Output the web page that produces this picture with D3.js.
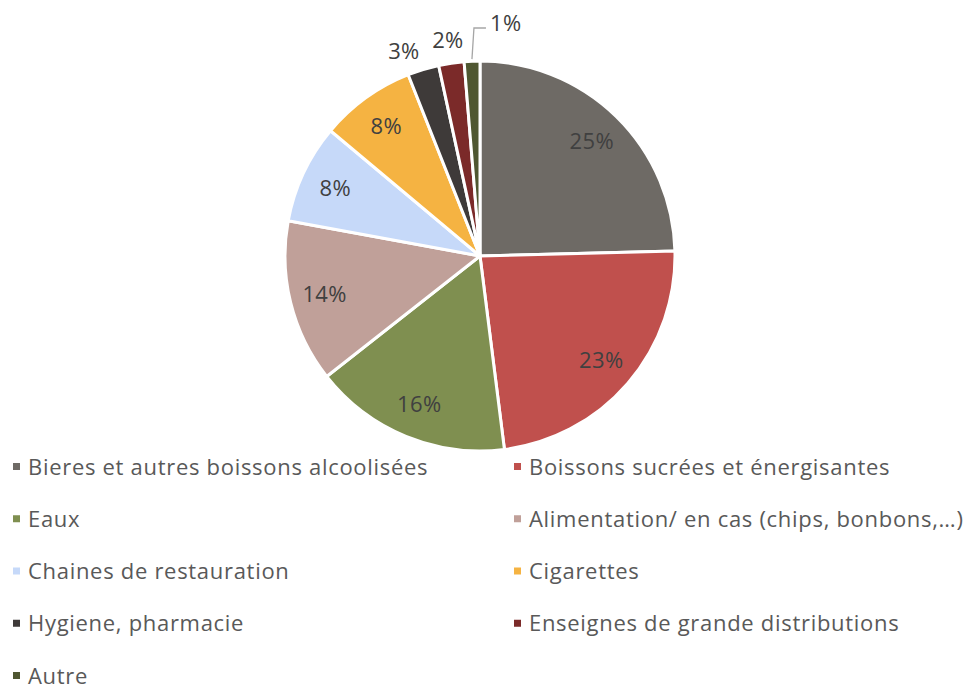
<!DOCTYPE html>
<html>
<head>
<meta charset="utf-8">
<script src="https://cdn.jsdelivr.net/npm/d3@7"></script>
<style>
  body { margin: 0; background: #fff; }
  svg { display: block; font-family: "Open Sans", "Noto Sans", sans-serif; }
</style>
</head>
<body>
<svg id="chart" width="968" height="686"></svg>
<script>
// data
const categories = [
  "Bieres et autres boissons alcoolisées",
  "Boissons sucrées et énergisantes",
  "Eaux",
  "Alimentation/ en cas (chips, bonbons,…)",
  "Chaines de restauration",
  "Cigarettes",
  "Hygiene, pharmacie",
  "Enseignes de grande distributions",
  "Autre"
];
const values = [24.6, 23.4, 16.4, 13.5, 8.2, 7.9, 2.6, 2.1, 1.3];
const colors = ["#6e6a65", "#c0504d", "#7f8f50", "#c0a099", "#c6d9f9", "#f5b342", "#3e3a39", "#7b2a29", "#4f5731"];

const width = 968
const height = 686
const cx = 480, cy = 256, radius = 195

const svg = d3.select("#chart")
const total = d3.sum(values)

const color = d3.scaleOrdinal(categories, colors)

const pie = d3.pie().sort(null).value(d => d.value)
const arc = d3.arc().innerRadius(0).outerRadius(radius)
const labelArc = d3.arc().innerRadius(160).outerRadius(160)

const data = categories.map((c, i) => ({ name: c, value: values[i] }))
const g = svg.append("g").attr("transform", "translate(" + cx + "," + cy + ")")

const arcs = g.selectAll(".arc")
  .data(pie(data))
  .enter()
  .append("g")
  .attr("class", "arc")

arcs.append("path")
  .attr("d", arc)
  .attr("fill", d => color(d.data.name))
  .attr("stroke", "#fff")
  .attr("stroke-width", 3)
  .attr("stroke-linejoin", "round")

const pct = d => Math.round(d.data.value / total * 100) + "%"
const labelStyle = t => t
  .attr("font-size", 22)
  .attr("letter-spacing", 0.4)
  .attr("fill", "#404040")

const slices = pie(data)

// inside labels for the big slices
g.selectAll(".inlabel")
  .data(slices.filter(d => d.data.value / total > 0.05))
  .enter()
  .append("text")
  .attr("class", "inlabel")
  .attr("x", d => labelArc.centroid(d)[0])
  .attr("y", d => labelArc.centroid(d)[1])
  .attr("text-anchor", "middle")
  .attr("dy", "0.35em")
  .call(labelStyle)
  .text(pct)

// outside labels for small slices, pushed apart right to left
const outR = 218
const outside = slices.filter(d => d.data.value / total > 0.015 && d.data.value / total <= 0.05).reverse()
let prevX = null
outside.forEach(d => {
  const mid = (d.startAngle + d.endAngle) / 2
  let x = Math.sin(mid) * outR
  if (prevX !== null && x > prevX - 44) x = prevX - 44
  const y = -Math.sqrt(outR * outR - x * x)
  prevX = x
  g.append("text")
    .attr("x", x).attr("y", y)
    .attr("text-anchor", "middle")
    .attr("dy", "0.35em")
    .call(labelStyle)
    .text(pct(d))
})

// tiny slice: leader line going up then right
slices.filter(d => d.data.value / total <= 0.015).forEach(d => {
  const mid = (d.startAngle + d.endAngle) / 2
  const x0 = Math.sin(mid) * (radius + 2), y0 = -Math.cos(mid) * (radius + 2)
  const y1 = -radius - 33
  const x1 = x0 + 2
  const x2 = x1 + 12
  g.append("polyline")
    .attr("points", [[x0, y0], [x1, y1], [x2, y1]].map(p => p.join(",")).join(" "))
    .attr("fill", "none")
    .attr("stroke", "#a6a6a6")
    .attr("stroke-width", 1.3)
  g.append("text")
    .attr("x", x2 + 4).attr("y", y1 - 5)
    .attr("dy", "0.35em")
    .call(labelStyle)
    .text(pct(d))
})

// legend, two columns
const legend = svg.append("g")
const colX = [13, 514]
const rowY = d3.scaleLinear().domain([0, 4]).range([467, 676])

const items = legend.selectAll(".item")
  .data(categories)
  .enter()
  .append("g")
  .attr("class", "item")
  .attr("transform", (d, i) => "translate(" + colX[i % 2] + "," + rowY(Math.floor(i / 2)) + ")")

items.append("rect")
  .attr("x", 0).attr("y", -4)
  .attr("width", 7).attr("height", 7)
  .attr("fill", d => color(d))

items.append("text")
  .attr("x", 15)
  .attr("dy", "0.35em")
  .attr("font-size", 22)
  .attr("letter-spacing", 0.7)
  .attr("fill", "#595959")
  .text(d => d)
</script>
</body>
</html>
